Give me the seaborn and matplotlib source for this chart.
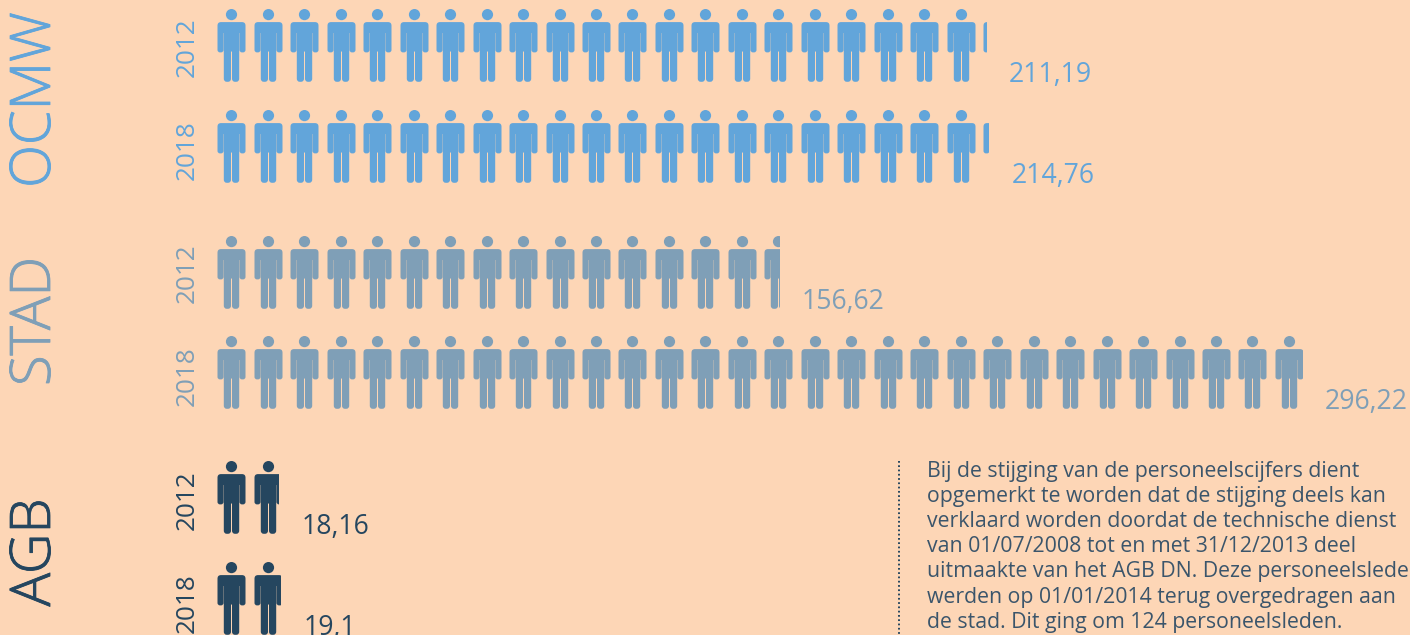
"""Personeelscijfers OCMW, stad en AGB: pictogram met een poppetje per 10 personeelsleden."""

import math

import matplotlib.patheffects as pe
import matplotlib.pyplot as plt
import pandas as pd
import seaborn as sns
from matplotlib.patches import Rectangle
from matplotlib.path import Path

organisaties = ["OCMW", "OCMW", "STAD", "STAD", "AGB", "AGB"]
jaren = ["2012", "2018", "2012", "2018", "2012", "2018"]
labels = ["211,19", "214,76", "156,62", "296,22", "18,16", "19,1"]
poppetjes = [21.10, 21.18, 15.52, 29.98, 1.86, 1.93]

kleuren = {"OCMW": "#62A5DA", "STAD": "#7F9FB7", "AGB": "#25465F"}
achtergrond = "#FDD6B6"
tekst_kleur = "#3B556B"
noot = (
    "Bij de stijging van de personeelscijfers dient\n"
    "opgemerkt te worden dat de stijging deels kan\n"
    "verklaard worden doordat de technische dienst\n"
    "van 01/07/2008 tot en met 31/12/2013 deel\n"
    "uitmaakte van het AGB DN. Deze personeelsleden\n"
    "werden op 01/01/2014 terug overgedragen aan\n"
    "de stad. Dit ging om 124 personeelsleden."
)

# layout in pixels
rij_y = [45.4, 145.7, 272.0, 372.0, 497.4, 597.7]
jaar_y = [47, 150, 273.4, 376.3, 500, 603.3]
label_x = [1009, 1012, 802, 1325, 302, 304]
groep_y = [100, 321.5, 552.5]
x0 = 231.3
stap = 36.47
breedte = 28.0


def afgerond(punten, stralen):
    """Gesloten pad door punten, met afgeronde hoeken."""
    verts, codes = [], []
    n = len(punten)
    for i, (p, r) in enumerate(zip(punten, stralen)):
        vorig, volgend = punten[i - 1], punten[(i + 1) % n]
        d1 = math.dist(p, vorig)
        d2 = math.dist(p, volgend)
        a = (p[0] + (vorig[0] - p[0]) * r / d1, p[1] + (vorig[1] - p[1]) * r / d1)
        b = (p[0] + (volgend[0] - p[0]) * r / d2, p[1] + (volgend[1] - p[1]) * r / d2)
        verts.append(a)
        codes.append(Path.MOVETO if i == 0 else Path.LINETO)
        verts += [p, b]
        codes += [Path.CURVE3, Path.CURVE3]
    verts.append(verts[0])
    codes.append(Path.CLOSEPOLY)
    return Path(verts, codes)


# poppetje rond (0, 0), y omhoog, in pixels
lijf = afgerond(
    [(-14, 23.4), (14, 23.4), (14, -6.9), (8.0, -6.9), (8.0, 12.5), (7.7, 12.5),
     (7.7, -36.3), (0.5, -36.3), (0.5, -6), (-0.5, -6), (-0.5, -36.3), (-7.7, -36.3),
     (-7.7, 12.5), (-8.0, 12.5), (-8.0, -6.9), (-14, -6.9)],
    [3.5, 3.5, 2.5, 2.5, 0.1, 0.1, 3, 3, 0.3, 0.3, 3, 3, 0.1, 0.1, 2.5, 2.5],
)
hoofd = Path.circle((0, 30.9), 5.6)
poppetje = Path.make_compound_path(hoofd, lijf)
grootte = (73 * 0.72) ** 2

sns.set_theme(style="white", rc={"axes.facecolor": achtergrond, "figure.facecolor": achtergrond})
plt.rcParams["font.family"] = ["Open Sans", "DejaVu Sans"]

fig = plt.figure(figsize=(14.1, 6.35), dpi=100)
ax = fig.add_axes([0, 0, 1, 1])

for org, jaar, label, aantal, y, jy, lx in zip(
    organisaties, jaren, labels, poppetjes, rij_y, jaar_y, label_x
):
    kleur = kleuren[org]
    rij = pd.DataFrame({"positie": range(math.ceil(aantal))})
    rij["x"] = x0 + rij["positie"] * stap
    rij["y"] = y
    sns.scatterplot(
        data=rij, x="x", y="y", ax=ax, color=kleur, marker=poppetje,
        s=grootte, linewidth=0, legend=False,
    )
    # laatste poppetje afsnijden op het deel dat getekend is
    heel = math.floor(aantal)
    einde = x0 - breedte / 2 + heel * stap + (aantal - heel) * breedte
    ax.collections[-1].set_clip_path(
        Rectangle((0, 0), einde, 635, transform=ax.transData)
    )
    ax.text(x0 - 44, jy, jaar, rotation=90, ha="center", va="center",
            fontsize=18.8, color=kleur)
    ax.text(lx, y + 37, label, ha="left", va="baseline", fontsize=19.2, color=kleur)

for org, y in zip(organisaties[::2], groep_y):
    t = ax.text(35.5, y, org, rotation=90, ha="center", va="center", fontsize=40.3,
                color=kleuren[org], fontweight="light")
    t.set_path_effects([pe.withStroke(linewidth=0.6, foreground=kleuren[org])])

ax.plot([898.5, 898.5], [461, 635], color=kleuren["AGB"], lw=1.4, ls=(0, (0.9, 1.3)))
ax.text(927, 460.5, noot, ha="left", va="top", fontsize=15.35, color=tekst_kleur, linespacing=1.265)

ax.set_xlim(0, 1410)
ax.set_ylim(635, 0)
ax.axis("off")

fig.savefig("out.png", dpi=100, facecolor=achtergrond)
plt.close()
